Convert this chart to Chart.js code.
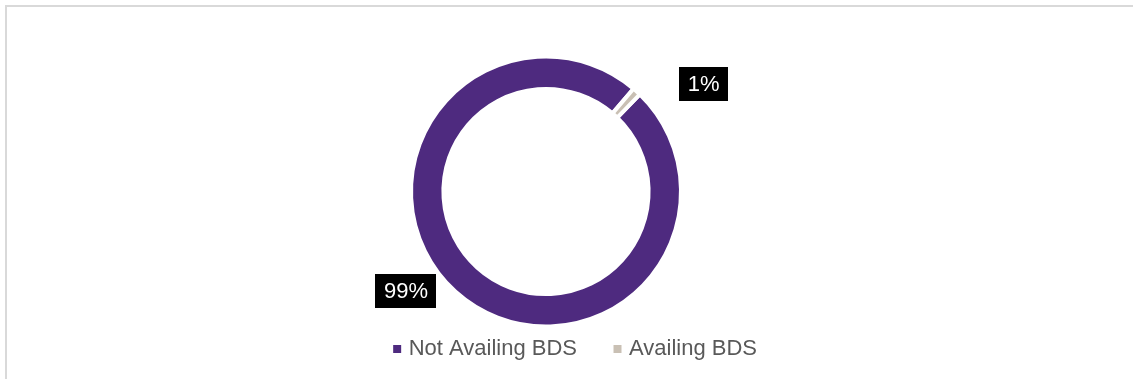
<!DOCTYPE html>
<html>
<head>
<meta charset="utf-8">
<script src="https://cdn.jsdelivr.net/npm/chart.js@4/dist/chart.umd.min.js"></script>
<style>
  body { margin: 0; background: #fff; overflow: hidden; }
  #frame { position: absolute; left: 5px; top: 5px; width: 1160px; height: 400px; border: 2px solid #d9d9d9; }
  #bds-chart { position: absolute; left: 0; top: 0; }
</style>
</head>
<body>
<div id="frame"></div>
<canvas id="bds-chart" width="1133" height="379"></canvas>
<script>
 // chart data //
 const categories = ["Not Availing BDS", "Availing BDS"];
 const shares = [99, 1];
 const sliceColors = ["#4E2A7F", "#C9C0B4"];

 // where the boxed % labels sit, in outer radius units from the centre
 const labelSpots = [[-1.037, 0.740], [1.167, -0.797]];

 const fontFamily = "'Liberation Sans', Arial, sans-serif";

 // draws the black boxed percentages next to the ring
 const boxLabels = {
    id: "boxLabels",
    afterDatasetsDraw(chart) {
        const ctx = chart.ctx;
        const arcs = chart.getDatasetMeta(0).data;
        const total = shares.reduce((a, b) => a + b, 0);
        ctx.save();
        ctx.font = "22px " + fontFamily;
        ctx.textAlign = "center";
        ctx.textBaseline = "middle";
        for (let i = 0; i < arcs.length; i++) {
            let arc = arcs[i];
            let text = Math.round(shares[i] / total * 100) + "%";
            let cx = arc.x + labelSpots[i][0] * arc.outerRadius;
            let cy = arc.y + labelSpots[i][1] * arc.outerRadius;
            let w = ctx.measureText(text).width + 17;
            ctx.fillStyle = "#000";
            ctx.fillRect(Math.round(cx - w / 2), Math.round(cy - 17), Math.round(w), 34);
            ctx.fillStyle = "#fff";
            ctx.fillText(text, cx, cy + 1);
        }
        ctx.restore();
    }
 };

 let bdsChart = new Chart("bds-chart", {
    type: "doughnut",
    data: {
        labels: categories,
        datasets: [{
            data: shares,
            backgroundColor: sliceColors,
            borderColor: "#ffffff",
            borderWidth: 4,
            hoverBorderWidth: 4,
            radius: 135,
            clip: false
        }]
    },
    options: {
        responsive: false,
        devicePixelRatio: 1,
        animation: false,
        cutout: "76%",
        rotation: 44,
        layout: {
            padding: { left: 295, right: 336, top: 85, bottom: 9 }
        },
        plugins: {
            tooltip: { enabled: false },
            legend: {
                position: "bottom",
                align: "end",
                labels: {
                    usePointStyle: true,
                    pointStyle: "rect",
                    boxWidth: 1,
                    boxHeight: 8,
                    padding: 40,
                    color: "#595959",
                    font: { family: fontFamily, size: 22 },
                    generateLabels(chart) {
                        let items = Chart.overrides.doughnut.plugins.legend.labels.generateLabels(chart);
                        items.forEach(item => { item.lineWidth = 0; });
                        return items;
                    }
                }
            }
        }
    },
    plugins: [boxLabels]
 });
</script>
</body>
</html>
